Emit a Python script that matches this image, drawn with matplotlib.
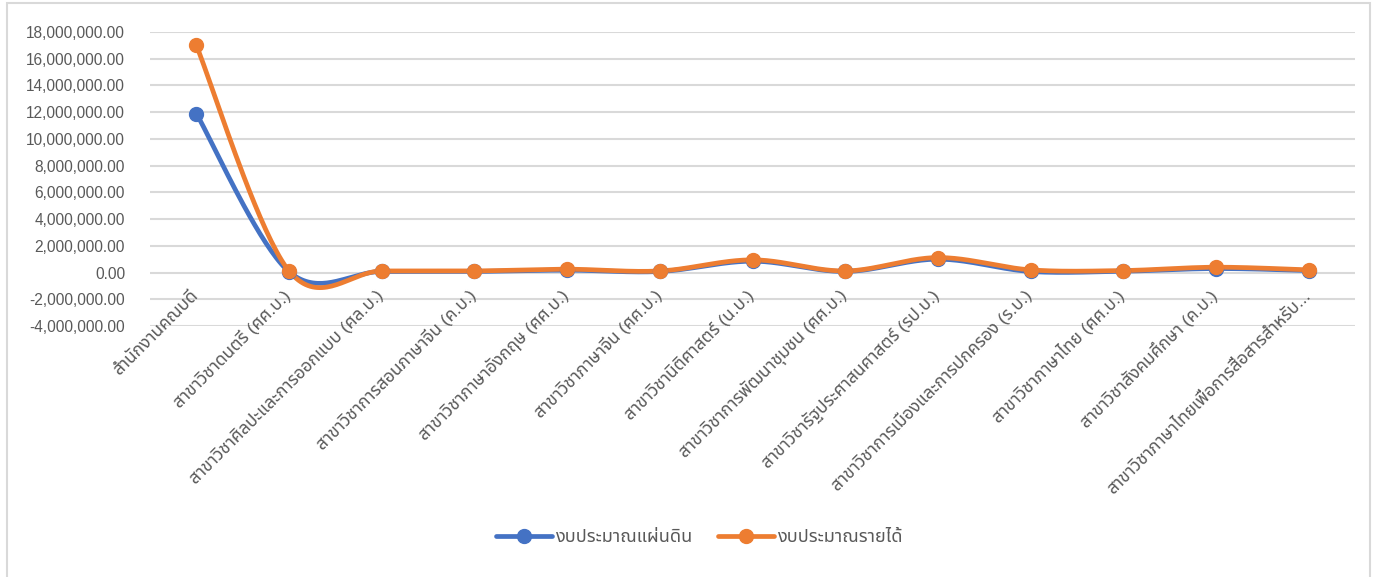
import numpy as np
import matplotlib
matplotlib.use("Agg")
import matplotlib.pyplot as plt
from matplotlib import font_manager
from matplotlib.ft2font import FT2Font
from matplotlib.patches import Rectangle
from matplotlib.ticker import FuncFormatter, MultipleLocator

# ---------------- data ----------------
categories = [
    "สำนักงานคณบดี",
    "สาขาวิชาดนตรี (ศศ.บ.)",
    "สาขาวิชาศิลปะและการออกแบบ (ศล.บ.)",
    "สาขาวิชาการสอนภาษาจีน (ค.บ.)",
    "สาขาวิชาภาษาอังกฤษ (ศศ.บ.)",
    "สาขาวิชาภาษาจีน (ศศ.บ.)",
    "สาขาวิชานิติศาสตร์ (น.บ.)",
    "สาขาวิชาการพัฒนาชุมชน (ศศ.บ.)",
    "สาขาวิชารัฐประศาสนศาสตร์ (รป.บ.)",
    "สาขาวิชาการเมืองและการปกครอง (ร.บ.)",
    "สาขาวิชาภาษาไทย (ศศ.บ.)",
    "สาขาวิชาสังคมศึกษา (ค.บ.)",
    "สาขาวิชาภาษาไทยเพื่อการสื่อสารสำหรับ...",
]
series_names = ["งบประมาณแผ่นดิน", "งบประมาณรายได้"]
state_budget = [11900000, 60000, 80000, 80000, 180000, 80000, 850000,
                80000, 1000000, 80000, 100000, 300000, 150000]
income_budget = [17000000, 120000, 120000, 120000, 250000, 120000, 950000,
                 120000, 1120000, 200000, 150000, 400000, 200000]

# ---------------- fonts ----------------
def thai_fonts():
    found = []
    for path in font_manager.findSystemFonts():
        try:
            f = FT2Font(path)
            if 0x0E01 in f.get_charmap():
                found.append((f.family_name, path))
        except Exception:
            pass
    return found

tf = thai_fonts()
for name, path in tf:
    try:
        font_manager.fontManager.addfont(path)
    except Exception:
        pass
thai_names = sorted(set(n for n, p in tf))
pref = ["Noto Sans Thai", "Noto Sans Thai UI", "Anuphan", "Kanit", "Prompt"]
chosen = [n for n in pref if n in thai_names] + [n for n in thai_names if n not in pref]
thai = chosen[0] if chosen else "DejaVu Sans"
plt.rcParams["font.family"] = ["Liberation Sans", thai, "DejaVu Sans"]

GRAY = "#595959"
GRID = "#d9d9d9"
BLUE = "#4472C4"
ORANGE = "#ED7D31"

W, H = 1386, 577
fig = plt.figure(figsize=(W / 100, H / 100), dpi=100)
ax = fig.add_axes([150 / W, 1 - 326 / H, (1355 - 150) / W, (326 - 32) / H])


def smooth(xs, ys, n=40):
    """Excel-like smoothed line: Catmull-Rom style cubic Bezier through the points."""
    xs = np.asarray(xs, float)
    ys = np.asarray(ys, float)
    px = np.concatenate([[xs[0]], xs, [xs[-1]]])
    py = np.concatenate([[ys[0]], ys, [ys[-1]]])
    outx, outy = [], []
    t = np.linspace(0, 1, n)
    for i in range(1, len(px) - 2):
        p0 = np.array([px[i], py[i]])
        p3 = np.array([px[i + 1], py[i + 1]])
        c1 = p0 + (np.array([px[i + 1], py[i + 1]]) - np.array([px[i - 1], py[i - 1]])) / 6
        c2 = p3 - (np.array([px[i + 2], py[i + 2]]) - np.array([px[i], py[i]])) / 6
        b = ((1 - t) ** 3)[:, None] * p0 + (3 * (1 - t) ** 2 * t)[:, None] * c1 + \
            (3 * (1 - t) * t ** 2)[:, None] * c2 + (t ** 3)[:, None] * p3
        outx.extend(b[:, 0])
        outy.extend(b[:, 1])
    return np.array(outx), np.array(outy)


x = np.arange(len(categories))
for vals, col, name in [(state_budget, BLUE, series_names[0]), (income_budget, ORANGE, series_names[1])]:
    sx, sy = smooth(x, vals)
    ax.plot(sx, sy, color=col, lw=3.4, solid_capstyle="round", zorder=3)
    ax.plot(x, vals, linestyle="none", marker="o", ms=10, color=col, zorder=4)
    ax.plot([], [], color=col, lw=3.4, marker="o", ms=10, label=name, solid_capstyle="round")

ax.set_xlim(-0.5, len(categories) - 0.5)
ax.set_ylim(-4000000, 18000000)
ax.yaxis.set_major_locator(MultipleLocator(2000000))
ax.yaxis.set_major_formatter(FuncFormatter(lambda v, p: f"{v:,.2f}"))
ax.grid(axis="y", color=GRID, lw=1.5)
ax.set_axisbelow(True)
for s in ax.spines.values():
    s.set_visible(False)
ax.tick_params(axis="y", length=0, pad=18, labelsize=11.2, labelcolor=GRAY)
ax.set_xticks([])

for i, lab in enumerate(categories):
    ax.annotate(lab, xy=(i, 0), xycoords="data", xytext=(3, -24), textcoords="offset pixels",
                rotation=45, ha="right", va="baseline", rotation_mode="anchor",
                fontsize=12.5, color=GRAY, annotation_clip=False)

leg = fig.legend(loc="center", bbox_to_anchor=(0.505, 1 - 538 / H), ncol=2, frameon=False,
                 fontsize=13, labelcolor=GRAY, handlelength=3.1, columnspacing=1.4,
                 handletextpad=0.2)

fig.patches.append(Rectangle((7 / W, -0.05), (1370 - 7) / W, 1.05 - 3 / H, transform=fig.transFigure,
                             fill=False, edgecolor=GRID, lw=1.5))

fig.savefig("out.png", dpi=100)
